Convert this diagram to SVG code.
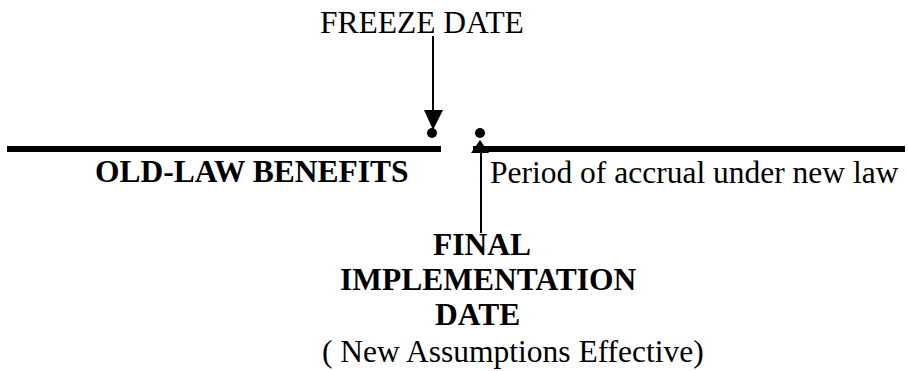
<svg xmlns="http://www.w3.org/2000/svg" width="908" height="371" viewBox="0 0 908 371">
<style>
.t{font-family:"Liberation Serif","Times New Roman",serif;font-size:31.5px;fill:#000}
.b{font-weight:bold}
.ln{stroke:#000;stroke-width:2;fill:none}
</style>
<rect width="908" height="371" fill="#fff"/>
<g id="old-law-bar">
<rect x="7" y="146" width="434" height="6" fill="#000"/>
<text class="t b" x="95" y="182">OLD-LAW BENEFITS</text>
</g>
<g id="new-law-bar">
<rect x="473" y="146" width="432" height="6" fill="#000"/>
<text class="t" x="490" y="183">Period of accrual under new law</text>
</g>
<g id="freeze-date">
<text class="t" x="320" y="33">FREEZE DATE</text>
<circle cx="432" cy="133" r="5" fill="#000"/>
</g>
<g id="final-implementation-date">
<circle cx="480" cy="133" r="5" fill="#000"/>
<text class="t b" x="433" y="255">FINAL</text>
<text class="t b" x="340" y="290">IMPLEMENTATION</text>
<text class="t b" x="435" y="325">DATE</text>
<text class="t" x="322" y="362">( New Assumptions Effective)</text>
</g>
<g id="connectors">
<line class="ln" x1="433" y1="36" x2="433" y2="112"/>
<polygon points="424,110 443,110 433,130" fill="#000"/>
<line class="ln" x1="481" y1="142" x2="481" y2="233"/>
<polygon points="471,153 489,153 480,140" fill="#000"/>
</g>
</svg>
